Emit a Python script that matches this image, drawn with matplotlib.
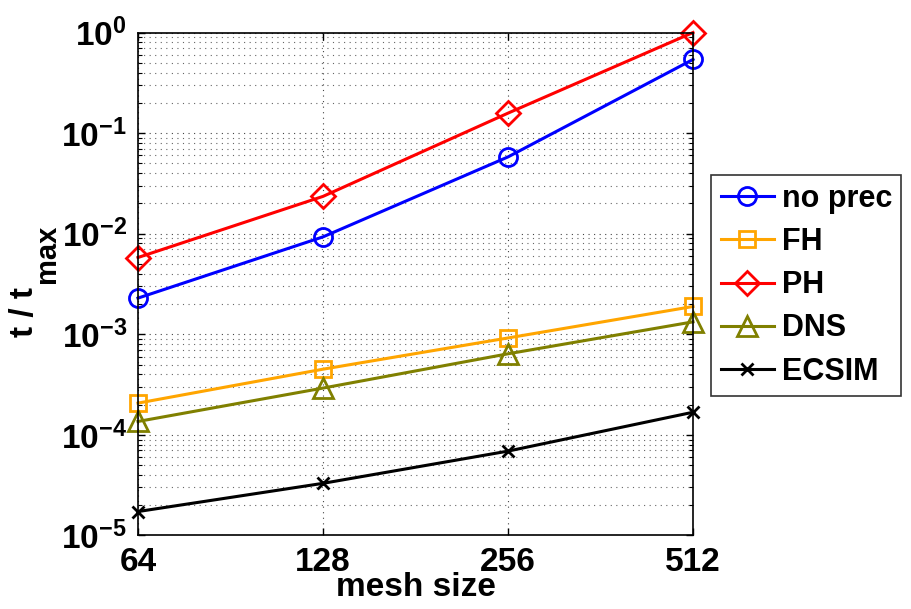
import matplotlib
matplotlib.use("Agg")
import matplotlib.pyplot as plt
from matplotlib.ticker import FixedLocator, FixedFormatter, LogLocator, NullFormatter, NullLocator

plt.rcParams['font.family'] = ['Liberation Sans', 'DejaVu Sans']
plt.rcParams['font.weight'] = 'bold'
plt.rcParams['mathtext.fontset'] = 'custom'
plt.rcParams['mathtext.rm'] = 'Liberation Sans:bold'
plt.rcParams['mathtext.bf'] = 'Liberation Sans:bold'
plt.rcParams['mathtext.it'] = 'Liberation Sans:bold'
plt.rcParams['mathtext.default'] = 'bf'

mesh = [64, 128, 256, 512]
mesh_labels = ['64', '128', '256', '512']

no_prec = [2.29e-3, 9.3e-3, 0.058, 0.54]
fh = [2.07e-4, 4.5e-4, 9.2e-4, 1.89e-3]
ph = [5.8e-3, 0.0235, 0.158, 1.0]
dns = [1.36e-4, 2.92e-4, 6.4e-4, 1.33e-3]
ecsim = [1.73e-5, 3.3e-5, 6.9e-5, 1.68e-4]

fig = plt.figure(figsize=(9.12, 6.09), dpi=100)
ax = fig.add_axes([0.1513, 0.1207, 0.6086, 0.8259])

lw = 2.2
mew = 2.0
kw = dict(lw=lw, mew=mew, clip_on=False)
ax.plot(mesh, no_prec, '-o', color='#0000ff', ms=13, mfc='none', label='no prec', **kw)
ax.plot(mesh, fh, '-s', color='#ffa500', ms=11, mfc='none', label='FH', **kw)
ax.plot(mesh, ph, '-D', color='#ff0000', ms=12, mfc='none', label='PH', **kw)
ax.plot(mesh, dns, '-^', color='#808000', ms=14, mfc='none', label='DNS', **kw)
ax.plot(mesh, ecsim, '-x', color='#000000', ms=9, label='ECSIM', **kw)

ax.set_xscale('log', base=2)
ax.set_yscale('log')
ax.set_xlim(64, 512)
ax.set_ylim(1e-5, 1)

ax.xaxis.set_major_locator(FixedLocator(mesh))
ax.xaxis.set_major_formatter(FixedFormatter(mesh_labels))
ax.xaxis.set_minor_locator(NullLocator())
ax.yaxis.set_major_locator(LogLocator(base=10, numticks=10))
ax.yaxis.set_minor_locator(LogLocator(base=10, subs=range(2, 10), numticks=10))
ax.yaxis.set_minor_formatter(NullFormatter())

ax.grid(True, which='major', linestyle=(0, (1, 4)), color='#444444', lw=0.8)
ax.grid(True, which='minor', axis='y', linestyle=(0, (1, 4)), color='#666666', lw=0.8)

ax.tick_params(which='both', direction='in', top=True, right=True, labelsize=24, pad=8)
ax.tick_params(which='major', length=5, width=1)
ax.tick_params(which='minor', length=3, width=0.8)
for s in ax.spines.values():
    s.set_linewidth(1.2)

ax.set_xlabel('mesh size', fontsize=24, fontweight='bold', labelpad=-4)

# y label drawn in two pieces so the subscript stays large
fig.text(0.027, 0.4466, 't / t', rotation=90, fontsize=24, fontweight='bold',
         ha='center', va='bottom')
fig.text(0.052, 0.5353, 'max', rotation=90, fontsize=21, fontweight='bold',
         ha='center', va='bottom')

leg = ax.legend(loc='upper left', bbox_to_anchor=(1.033, 0.717), fontsize=22, frameon=True,
                fancybox=False, edgecolor='black', handlelength=1.75, handletextpad=0.25,
                borderpad=0.3, labelspacing=0.43, borderaxespad=0)
leg.get_frame().set_linewidth(1.2)
for t in leg.get_texts():
    t.set_fontweight('bold')

fig.savefig('out.png', dpi=100)
